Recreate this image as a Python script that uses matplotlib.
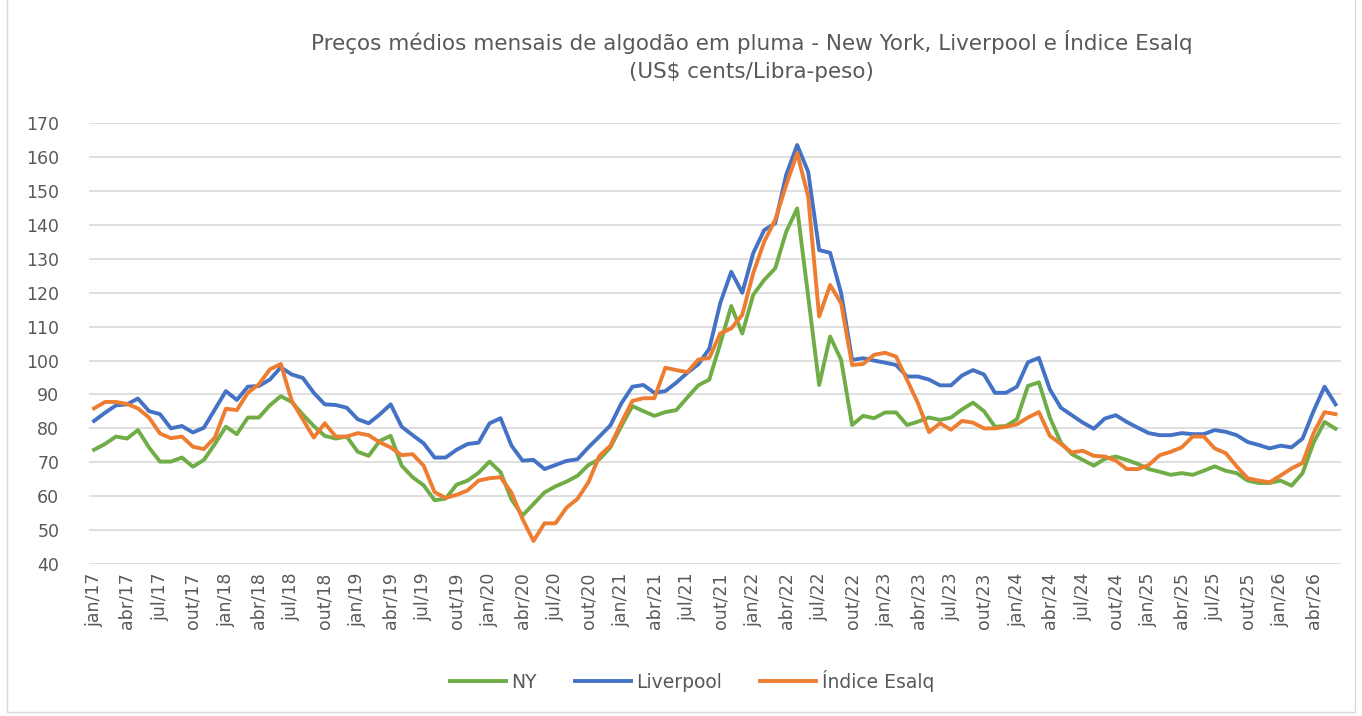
import numpy as np
import matplotlib.pyplot as plt
from matplotlib.patches import Rectangle

# Monthly data, jan/17 .. jun/26 (US$ cents / lb)
meses = ["jan", "fev", "mar", "abr", "mai", "jun", "jul", "ago", "set", "out", "nov", "dez"]
labels = [f"{meses[m]}/{a % 100:02d}" for a in range(2017, 2027) for m in range(12)][:114]

ny = [73.7, 75.4, 77.6, 77.0, 79.5, 74.4, 70.2, 70.2, 71.4, 68.7, 70.7, 75.4,
      80.5, 78.3, 83.2, 83.2, 86.8, 89.5, 87.8, 84.1, 80.7, 77.8, 77.0, 77.6,
      73.1, 71.9, 76.3, 77.8, 69.0, 65.6, 63.2, 58.8, 59.3, 63.4, 64.6, 66.9,
      70.2, 67.1, 59.0, 54.3, 57.7, 61.1, 62.9, 64.3, 66.0, 69.2, 70.9, 74.4,
      80.7, 86.6, 85.1, 83.7, 84.8, 85.4, 89.1, 92.7, 94.4, 105.0, 116.1, 108.0,
      119.4, 123.8, 127.2, 138.0, 144.9, 119.0, 92.8, 107.1, 100.2, 81.0, 83.7, 83.0,
      84.7, 84.7, 81.0, 82.0, 83.2, 82.5, 83.2, 85.6, 87.6, 85.1, 80.5, 80.7,
      82.7, 92.5, 93.6, 83.2, 75.8, 72.4, 70.7, 69.0, 71.0, 71.7, 70.7, 69.5,
      68.0, 67.2, 66.3, 66.8, 66.3, 67.5, 68.8, 67.5, 66.8, 64.6, 63.9, 63.9,
      64.6, 63.1, 66.8, 75.8, 81.9, 79.9]

liverpool = [82.2, 84.6, 86.8, 87.1, 88.8, 85.1, 84.2, 80.0, 80.7, 78.8, 80.2, 85.6,
             91.0, 88.4, 92.3, 92.5, 94.4, 98.0, 95.9, 94.9, 90.5, 87.1, 86.9, 86.1,
             82.7, 81.5, 84.1, 87.1, 80.5, 78.0, 75.6, 71.4, 71.4, 73.7, 75.4, 75.8,
             81.5, 83.0, 74.9, 70.5, 70.7, 68.0, 69.2, 70.4, 70.9, 74.4, 77.6, 80.9,
             87.4, 92.3, 92.8, 90.5, 91.0, 93.5, 96.4, 98.9, 103.5, 117.0, 126.2, 120.0,
             131.7, 138.5, 140.5, 154.8, 163.6, 155.7, 132.6, 131.8, 119.9, 100.2, 100.7, 100.0,
             99.4, 98.7, 95.3, 95.3, 94.4, 92.7, 92.7, 95.6, 97.2, 95.9, 90.5, 90.5,
             92.3, 99.5, 100.8, 91.5, 86.1, 83.9, 81.7, 79.9, 82.9, 83.9, 81.9, 80.2,
             78.6, 78.0, 78.0, 78.6, 78.3, 78.3, 79.5, 79.0, 78.0, 76.0, 75.1, 74.1,
             74.9, 74.4, 77.0, 85.1, 92.3, 87.1]

esalq = [85.9, 87.8, 87.8, 87.2, 85.9, 83.2, 78.5, 77.1, 77.6, 74.6, 73.9, 77.3,
         85.8, 85.4, 90.5, 93.0, 97.4, 99.0, 88.1, 82.7, 77.3, 81.5, 77.6, 77.6,
         78.6, 78.0, 75.9, 74.4, 72.1, 72.4, 69.0, 61.2, 59.5, 60.4, 61.7, 64.6,
         65.3, 65.6, 61.0, 53.3, 46.8, 52.0, 52.0, 56.6, 59.2, 64.1, 71.9, 74.9,
         81.7, 88.1, 88.9, 88.9, 97.9, 97.2, 96.6, 100.3, 100.8, 108.0, 109.5, 113.5,
         125.8, 135.1, 141.5, 151.8, 161.2, 148.4, 113.0, 122.3, 116.9, 98.7, 99.0, 101.7,
         102.3, 101.2, 94.3, 87.4, 78.9, 81.5, 79.6, 82.2, 81.7, 80.0, 80.0, 80.5,
         81.2, 83.2, 84.8, 77.8, 75.4, 72.9, 73.4, 71.9, 71.7, 70.5, 68.0, 68.0,
         69.2, 72.1, 73.1, 74.4, 77.6, 77.6, 74.1, 72.7, 68.8, 65.3, 64.6, 64.1,
         66.1, 68.2, 69.8, 78.6, 84.8, 84.2]

x = np.arange(len(labels))
grey = "#595959"

fig = plt.figure(figsize=(13.62, 7.16), dpi=100)
ax = fig.add_axes([0.065, 0.2123, 0.9196, 0.6155])

ax.plot(x, ny, color="#70AD47", lw=2.8, label="NY", solid_joinstyle="round")
ax.plot(x, liverpool, color="#4472C4", lw=2.8, label="Liverpool", solid_joinstyle="round")
ax.plot(x, esalq, color="#ED7D31", lw=2.8, label="Índice Esalq", solid_joinstyle="round")

ax.set_xlim(-0.5, len(labels) - 0.5)
ax.set_ylim(40, 170)
ax.set_yticks(np.arange(40, 171, 10))
ax.set_xticks(x[::3])
ax.set_xticklabels(labels[::3], rotation=90)
ax.tick_params(axis="both", length=0, labelsize=12.5, colors=grey)
ax.yaxis.set_tick_params(pad=21)
ax.xaxis.set_tick_params(pad=6)
ax.grid(axis="y", color="#D9D9D9", lw=1.2)
ax.set_axisbelow(True)
for s in ax.spines.values():
    s.set_visible(False)

fig.text(0.552, 0.941, "Preços médios mensais de algodão em pluma - New York, Liverpool e Índice Esalq",
         ha="center", va="center", fontsize=15.5, color=grey)
fig.text(0.552, 0.899, "(US$ cents/Libra-peso)", ha="center", va="center", fontsize=15.5, color=grey)

fig.legend(loc="center", bbox_to_anchor=(0.508, 0.049), ncol=3, frameon=False,
           fontsize=13.5, labelcolor=grey, handlelength=3, handletextpad=0.3, columnspacing=2)

fig.patches.append(Rectangle((0.005, 0.005), 0.99, 1.2, transform=fig.transFigure,
                             fill=False, edgecolor="#D9D9D9", lw=1))

fig.savefig("out.png", dpi=100)
